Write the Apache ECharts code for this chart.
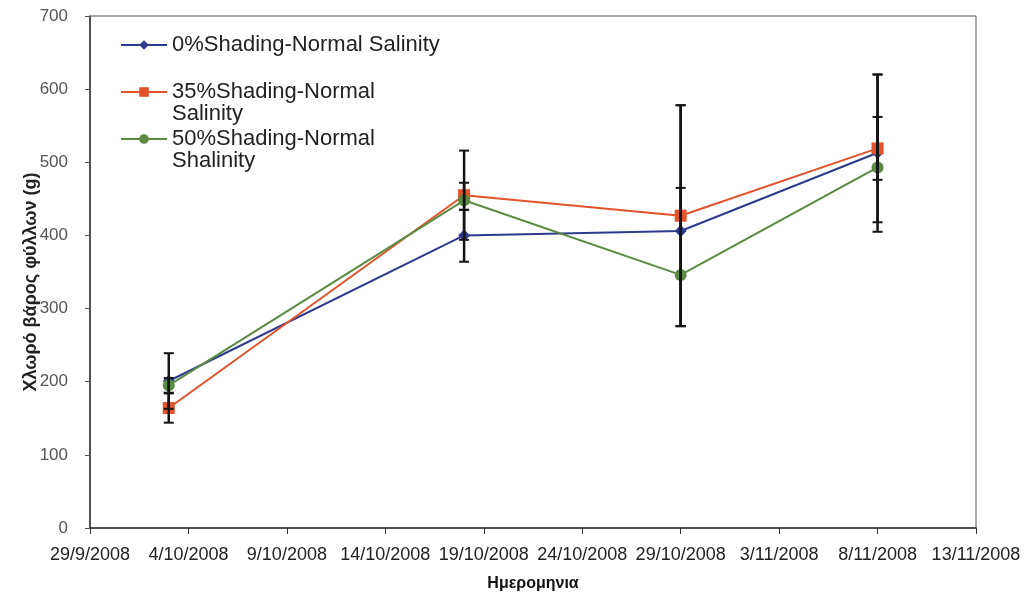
<!DOCTYPE html>
<html>
<head>
<meta charset="utf-8">
<script src="https://cdn.jsdelivr.net/npm/echarts@6/dist/echarts.min.js"></script>
<style>
  html, body { margin: 0; padding: 0; background: #ffffff; }
  #chart { width: 1024px; height: 597px; }
</style>
</head>
<body>
<div id="chart"></div>
<script>
// Sampling dates (d/m/yyyy)
const dates = ['3/10/2008', '18/10/2008', '29/10/2008', '8/11/2008'];

// Series names (second line of each name is shown under the first in the legend)
const seriesNames = [
  '0%Shading-Normal Salinity',
  '35%Shading-Normal\nSalinity',
  '50%Shading-Normal\nShalinity'
];

// Mean fresh leaf weight (g)
const shading0 = [201, 400, 406, 513];
const shading35 = [164, 455, 427, 519];
const shading50 = [195, 448, 346, 493];

// Error bar bounds (g)
const shading0Low = [163, 364, 276, 405];
const shading0High = [239, 435, 578, 620];
const shading35Low = [144, 394, 276, 418];
const shading35High = [184, 516, 578, 620];
const shading50Low = [185, 435, 276, 476];
const shading50High = [205, 472, 465, 562];

// X axis range (days from the first axis date), 5-day steps
const axisStart = '29/9/2008';
const axisDays = 45;
const axisStep = 5;

const DAY = 86400000;
function parseDate(s) {
  const p = s.split('/').map(Number);
  return Date.UTC(p[2], p[1] - 1, p[0]);
}
const base = parseDate(axisStart);
function dayOffset(s) { return Math.round((parseDate(s) - base) / DAY); }
function dayLabel(v) {
  const d = new Date(base + v * DAY);
  return d.getUTCDate() + '/' + (d.getUTCMonth() + 1) + '/' + d.getUTCFullYear();
}

const xDays = dates.map(dayOffset);
const colors = ['#2E3A8C', '#E2532C', '#5C8A43'];
const symbols = ['diamond', 'rect', 'circle'];
const symbolSizes = [12, 12, 12];
const values = [shading0, shading35, shading50];
const lows = [shading0Low, shading35Low, shading50Low];
const highs = [shading0High, shading35High, shading50High];

const FONT = 'Liberation Sans, Arial, sans-serif';

const series = [];
values.forEach((vals, i) => {
  series.push({
    name: seriesNames[i],
    type: 'line',
    data: vals.map((v, k) => [xDays[k], v]),
    symbol: symbols[i],
    symbolSize: symbolSizes[i],
    showAllSymbol: true,
    lineStyle: { color: colors[i], width: 2 },
    itemStyle: { color: colors[i] },
    z: 3 + i
  });
});
values.forEach((vals, i) => {
  series.push({
    type: 'custom',
    silent: true,
    z: 10,
    data: vals.map((v, k) => [xDays[k], lows[i][k], highs[i][k]]),
    renderItem: function (params, api) {
      const lo = api.coord([api.value(0), api.value(1)]);
      const hi = api.coord([api.value(0), api.value(2)]);
      const half = 5;
      return {
        type: 'group',
        children: [
          { type: 'line', shape: { x1: lo[0], y1: lo[1], x2: hi[0], y2: hi[1] }, style: { stroke: '#141414', lineWidth: 2.5 } },
          { type: 'line', shape: { x1: lo[0] - half, y1: lo[1], x2: lo[0] + half, y2: lo[1] }, style: { stroke: '#141414', lineWidth: 2 } },
          { type: 'line', shape: { x1: hi[0] - half, y1: hi[1], x2: hi[0] + half, y2: hi[1] }, style: { stroke: '#141414', lineWidth: 2 } }
        ]
      };
    }
  });
});

const legendFont = 22;
const legendTop = 34;
const legendPitch = 47;
const legendTextX = 172;

const graphics = [];
seriesNames.forEach((n, i) => {
  const parts = n.split('\n');
  if (parts.length > 1) {
    graphics.push({
      type: 'text',
      left: legendTextX,
      top: legendTop + i * legendPitch + 22,
      style: {
        text: parts[1],
        fontFamily: FONT,
        fontSize: legendFont,
        fill: '#222'
      }
    });
  }
});

const chart = echarts.init(document.getElementById('chart'), null, { renderer: 'canvas' });
chart.setOption({
  backgroundColor: '#ffffff',
  animation: false,
  grid: {
    left: 90, right: 48, top: 16, bottom: 69,
    outerBoundsMode: 'none',
    containLabel: false,
    show: true, borderColor: '#555', borderWidth: 1, backgroundColor: 'transparent'
  },
  legend: {
    orient: 'vertical',
    left: 120,
    top: legendTop,
    padding: 0,
    itemGap: 25,
    itemWidth: 46,
    itemHeight: 12,
    data: seriesNames,
    formatter: function (name) { return name.split('\n')[0]; },
    textStyle: {
      fontFamily: FONT,
      fontSize: legendFont,
      lineHeight: 22,
      color: '#222'
    }
  },
  xAxis: {
    type: 'value',
    min: 0,
    max: axisDays,
    interval: axisStep,
    name: 'Ημερομηνια',
    nameLocation: 'middle',
    nameGap: 48,
    nameMoveOverlap: false,
    nameTextStyle: {
      fontFamily: FONT,
      fontSize: 16, fontWeight: 'bold', color: '#111'
    },
    axisLine: { show: true, onZero: false, lineStyle: { color: '#333', width: 1.5 } },
    axisTick: { show: true, inside: false, length: 6, lineStyle: { color: '#333' } },
    axisLabel: {
      formatter: dayLabel,
      margin: 18,
      interval: 0,
      hideOverlap: false,
      fontFamily: FONT,
      fontSize: 18,
      color: '#222',
      showMinLabel: true, showMaxLabel: true
    },
    splitLine: { show: false }
  },
  yAxis: {
    type: 'value',
    min: 0,
    max: 700,
    interval: 100,
    name: 'Χλωρό βάρος φύλλων (g)',
    nameLocation: 'middle',
    nameGap: 50,
    nameRotate: 90,
    nameMoveOverlap: false,
    nameTextStyle: {
      fontFamily: FONT,
      fontSize: 18, fontWeight: 'bold', color: '#222',
      padding: [0, 20, 0, 0]
    },
    axisLine: { show: true, lineStyle: { color: '#333', width: 1.5 } },
    axisTick: { show: true, inside: false, length: 5, lineStyle: { color: '#555' } },
    axisLabel: {
      margin: 22,
      fontFamily: FONT,
      fontSize: 17,
      color: '#555'
    },
    splitLine: { show: false }
  },
  graphic: graphics,
  series: series
});
</script>
</body>
</html>
